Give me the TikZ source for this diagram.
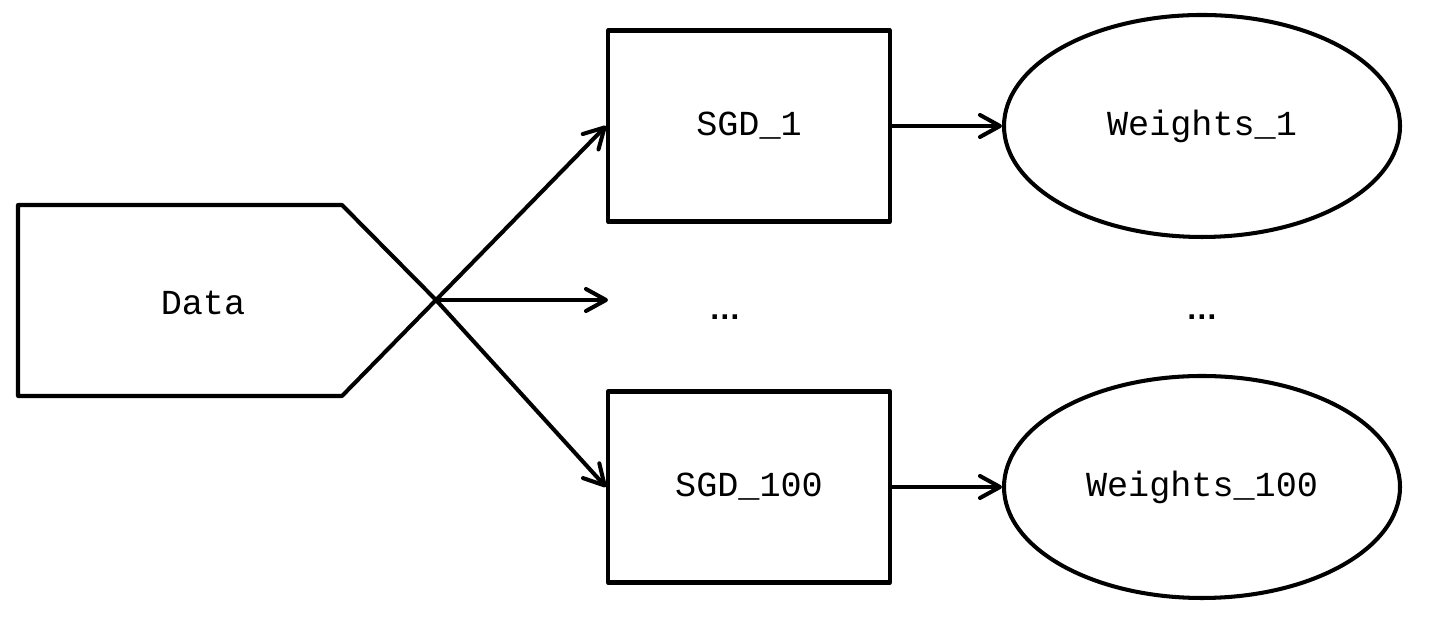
\documentclass[tikz,border=0pt]{standalone}
\usepackage{fontspec}
\setmonofont{Liberation Mono}
\setsansfont{Liberation Sans}
\usetikzlibrary{arrows.meta,shapes.geometric}
\tikzset{>={Straight Barb[length=2mm,width=2.2mm,round]}}

\begin{document}
\begin{tikzpicture}[
    line width=1.15pt, line join=round,
    every node/.style={font=\ttfamily\fontsize{10}{12}\selectfont},
    solver/.style={draw, rectangle, minimum width=2.82cm, minimum height=1.91cm},
    result/.style={draw, ellipse, minimum width=3.96cm, minimum height=2.22cm},
    gap/.style={font=\sffamily\bfseries\fontsize{9}{11}\selectfont}
  ]
    \useasboundingbox (0,0) rectangle (14.30,6.33);
    % input
    \draw (0.18,4.28) -- (3.42,4.28) -- (4.36,3.33) -- (3.42,2.37) -- (0.18,2.37) -- cycle;
    \coordinate (tip) at (4.36,3.33);
    \node (data) at (2.03,3.30) {Data};
    % workers
    \node[solver] (sgd1)   at (7.49,5.07) {SGD\_1};
    \node[solver] (sgd100) at (7.49,1.46) {SGD\_100};
    \coordinate (sgdmid) at (6.08,3.33);
    \node[gap] (dotsA) at (7.25,3.16) {…};
    % outputs
    \node[result] (w1)   at (12.02,5.07) {Weights\_1};
    \node[result] (w100) at (12.02,1.46) {Weights\_100};
    \node[gap] (dotsB) at (12.02,3.16) {…};
    % arrows
    \draw[->] (tip) -- (sgd1.west);
    \draw[->] (tip) -- (sgdmid);
    \draw[->] (tip) -- (sgd100.west);
    \draw[->] (sgd1.east) -- (w1.west);
    \draw[->] (sgd100.east) -- (w100.west);
  \end{tikzpicture}
\end{document}
